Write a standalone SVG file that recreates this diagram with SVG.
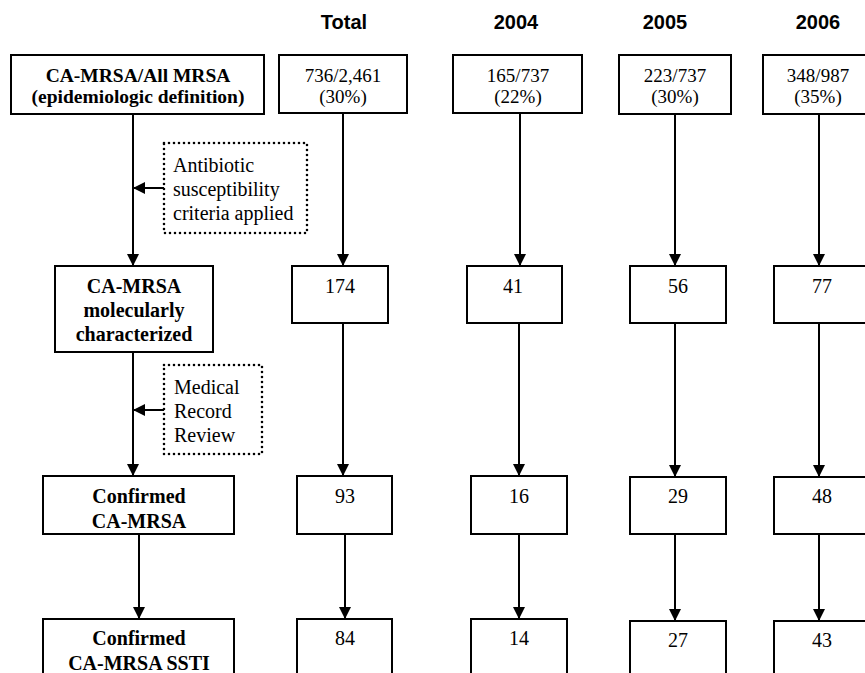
<svg xmlns="http://www.w3.org/2000/svg" width="865" height="673" viewBox="0 0 865 673">
<style>
.box{fill:#fff;stroke:#000;stroke-width:2}
.dot{fill:none;stroke:#000;stroke-width:2.6;stroke-dasharray:0 5;stroke-linecap:round}
.lbl{font-family:"Liberation Serif","Times New Roman",serif;font-size:20px;font-weight:bold;text-anchor:middle;fill:#000}
.lbl2{font-family:"Liberation Serif","Times New Roman",serif;font-size:19.5px;font-weight:bold;text-anchor:middle;fill:#000}
.num{font-family:"Liberation Serif","Times New Roman",serif;font-size:20px;text-anchor:middle;fill:#000}
.num2{font-family:"Liberation Serif","Times New Roman",serif;font-size:19px;text-anchor:middle;fill:#000}
.note{font-family:"Liberation Serif","Times New Roman",serif;font-size:20px;fill:#000}
.hdr{font-family:"Liberation Sans",Arial,sans-serif;font-size:20px;font-weight:bold;text-anchor:middle;fill:#000}
.con{fill:none;stroke:#000;stroke-width:2;marker-end:url(#ah)}
</style>
<defs>
<marker id="ah" viewBox="0 0 12 12" refX="12" refY="6" markerWidth="12" markerHeight="12" markerUnits="userSpaceOnUse" orient="auto">
<path d="M0,0 L12,6 L0,12 Z" fill="#000"/>
</marker>
</defs>
<rect width="865" height="673" fill="#fff"/>
<g id="headers">
<text class="hdr" x="344" y="29">Total</text>
<text class="hdr" x="516" y="29">2004</text>
<text class="hdr" x="665" y="29">2005</text>
<text class="hdr" x="818" y="29">2006</text>
</g>
<g id="connectors">
<path class="con" d="M133,114 V266"/>
<path class="con" d="M164,188 H133"/>
<path class="con" d="M133,352 V476"/>
<path class="con" d="M164,410 H133"/>
<path class="con" d="M139,534 V619"/>
<path class="con" d="M343,113 V266"/>
<path class="con" d="M343,323 V476"/>
<path class="con" d="M345,534 V619"/>
<path class="con" d="M520,113 V266"/>
<path class="con" d="M519,323 V476"/>
<path class="con" d="M519,534 V619"/>
<path class="con" d="M675,114 V266"/>
<path class="con" d="M675,323 V477"/>
<path class="con" d="M675,534 V621"/>
<path class="con" d="M819,114 V266"/>
<path class="con" d="M819,323 V477"/>
<path class="con" d="M819,534 V621"/>
</g>
<g id="n-def">
<rect class="box" x="11" y="55" width="253" height="59"/>
<text class="lbl2" x="138" y="82">CA-MRSA/All MRSA</text>
<text class="lbl2" x="138" y="103">(epidemiologic definition)</text>
</g>
<g id="n-abx">
<rect class="dot" x="164" y="143" width="143" height="90"/>
<text class="note" x="173" y="172">Antibiotic</text>
<text class="note" x="173" y="196">susceptibility</text>
<text class="note" x="173" y="220">criteria applied</text>
</g>
<g id="n-mol">
<rect class="box" x="55" y="266" width="158" height="86"/>
<text class="lbl" x="134" y="293">CA-MRSA</text>
<text class="lbl" x="134" y="317">molecularly</text>
<text class="lbl" x="134" y="341">characterized</text>
</g>
<g id="n-mrr">
<rect class="dot" x="164" y="365" width="98" height="89"/>
<text class="note" x="174" y="394">Medical</text>
<text class="note" x="174" y="418">Record</text>
<text class="note" x="174" y="442">Review</text>
</g>
<g id="n-conf">
<rect class="box" x="43" y="476" width="191" height="58"/>
<text class="lbl" x="139" y="503">Confirmed</text>
<text class="lbl" x="139" y="528">CA-MRSA</text>
</g>
<g id="n-ssti">
<rect class="box" x="43" y="619" width="191" height="70"/>
<text class="lbl" x="139" y="645">Confirmed</text>
<text class="lbl" x="139" y="670">CA-MRSA SSTI</text>
</g>
<g id="n-total-1">
<rect class="box" x="279" y="55" width="128" height="58"/>
<text class="num2" x="343" y="82">736/2,461</text>
<text class="num2" x="343" y="103">(30%)</text>
</g>
<g id="n-2004-1">
<rect class="box" x="453" y="55" width="129" height="58"/>
<text class="num2" x="518" y="82">165/737</text>
<text class="num2" x="518" y="103">(22%)</text>
</g>
<g id="n-2005-1">
<rect class="box" x="619" y="55" width="112" height="59"/>
<text class="num2" x="675" y="82">223/737</text>
<text class="num2" x="675" y="103">(30%)</text>
</g>
<g id="n-2006-1">
<rect class="box" x="763" y="55" width="110" height="59"/>
<text class="num2" x="818" y="82">348/987</text>
<text class="num2" x="818" y="103">(35%)</text>
</g>
<g id="n-total-2">
<rect class="box" x="292" y="266" width="96" height="57"/>
<text class="num" x="340" y="293">174</text>
</g>
<g id="n-2004-2">
<rect class="box" x="467" y="266" width="95" height="57"/>
<text class="num" x="513" y="293">41</text>
</g>
<g id="n-2005-2">
<rect class="box" x="630" y="266" width="96" height="57"/>
<text class="num" x="678" y="293">56</text>
</g>
<g id="n-2006-2">
<rect class="box" x="774" y="266" width="100" height="57"/>
<text class="num" x="822" y="293">77</text>
</g>
<g id="n-total-3">
<rect class="box" x="297" y="476" width="95" height="58"/>
<text class="num" x="345" y="503">93</text>
</g>
<g id="n-2004-3">
<rect class="box" x="471" y="476" width="96" height="58"/>
<text class="num" x="519" y="503">16</text>
</g>
<g id="n-2005-3">
<rect class="box" x="630" y="477" width="96" height="57"/>
<text class="num" x="678" y="503">29</text>
</g>
<g id="n-2006-3">
<rect class="box" x="774" y="477" width="100" height="57"/>
<text class="num" x="822" y="503">48</text>
</g>
<g id="n-total-4">
<rect class="box" x="297" y="619" width="95" height="70"/>
<text class="num" x="345" y="645">84</text>
</g>
<g id="n-2004-4">
<rect class="box" x="471" y="619" width="96" height="70"/>
<text class="num" x="519" y="645">14</text>
</g>
<g id="n-2005-4">
<rect class="box" x="630" y="621" width="96" height="70"/>
<text class="num" x="678" y="647">27</text>
</g>
<g id="n-2006-4">
<rect class="box" x="774" y="621" width="100" height="70"/>
<text class="num" x="822" y="647">43</text>
</g>
</svg>
